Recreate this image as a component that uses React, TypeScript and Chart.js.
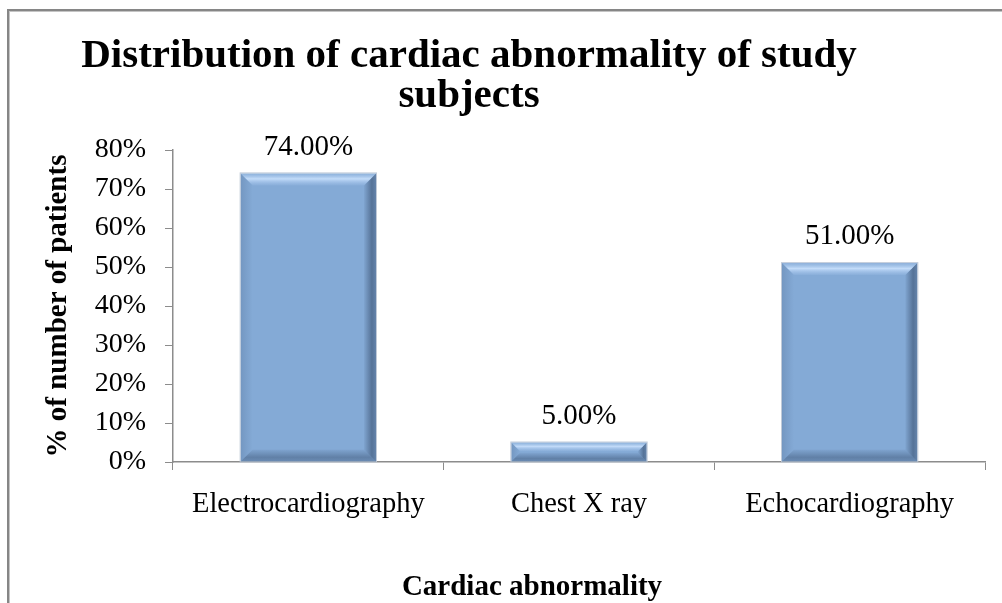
import React, { useEffect, useRef } from 'react';
import { Chart, registerables } from 'chart.js';

Chart.register(...registerables);

const categories: string[] = ['Electrocardiography', 'Chest X ray', 'Echocardiography'];
const values: number[] = [0.74, 0.05, 0.51];
const yMin = 0;
const yMax = 0.8;
const yStep = 0.1;
const chartTitle: string[] = ['Distribution of cardiac abnormality of study', 'subjects'];
const xTitle = 'Cardiac abnormality';
const yTitle = '% of number of patients';

const SERIF = "'Liberation Serif', 'Times New Roman', Times, serif";

function poly(ctx: CanvasRenderingContext2D, pts: number[][]) {
  ctx.beginPath();
  ctx.moveTo(pts[0][0], pts[0][1]);
  for (let i = 1; i < pts.length; i++) ctx.lineTo(pts[i][0], pts[i][1]);
  ctx.closePath();
}

const bevelPlugin = {
  id: 'bevelBars',
  afterDatasetsDraw(chart: any) {
    const ctx: CanvasRenderingContext2D = chart.ctx;
    const meta = chart.getDatasetMeta(0);
    meta.data.forEach((bar: any) => {
      const p = bar.getProps(['x', 'y', 'base', 'width'], true);
      const x0 = p.x - p.width / 2;
      const x1 = p.x + p.width / 2;
      const y0 = Math.min(p.y, p.base);
      const y1 = Math.max(p.y, p.base);
      const h = y1 - y0;
      const b = Math.min(12, h / 2.2);
      ctx.save();
      // left band
      let g = ctx.createLinearGradient(x0, 0, x0 + b, 0);
      g.addColorStop(0, 'rgba(60,85,120,0.22)');
      g.addColorStop(1, 'rgba(60,85,120,0)');
      poly(ctx, [[x0, y0], [x0 + b, y0 + b], [x0 + b, y1 - b], [x0, y1]]);
      ctx.fillStyle = g;
      ctx.fill();
      // right band
      g = ctx.createLinearGradient(x1 - b, 0, x1, 0);
      g.addColorStop(0, 'rgba(40,60,90,0.05)');
      g.addColorStop(0.65, 'rgba(40,60,90,0.5)');
      g.addColorStop(1, 'rgba(40,60,90,0.35)');
      poly(ctx, [[x1, y0], [x1, y1], [x1 - b, y1 - b], [x1 - b, y0 + b]]);
      ctx.fillStyle = g;
      ctx.fill();
      // bottom band
      g = ctx.createLinearGradient(0, y1 - b, 0, y1);
      g.addColorStop(0, 'rgba(40,60,90,0.05)');
      g.addColorStop(0.65, 'rgba(40,60,90,0.38)');
      g.addColorStop(1, 'rgba(40,60,90,0.28)');
      poly(ctx, [[x0, y1], [x1, y1], [x1 - b, y1 - b], [x0 + b, y1 - b]]);
      ctx.fillStyle = g;
      ctx.fill();
      // top band
      g = ctx.createLinearGradient(0, y0, 0, y0 + b);
      g.addColorStop(0, 'rgba(150,185,225,0.5)');
      g.addColorStop(0.45, 'rgba(205,228,255,0.85)');
      g.addColorStop(1, 'rgba(170,200,240,0.15)');
      poly(ctx, [[x0, y0], [x1, y0], [x1 - b, y0 + b], [x0 + b, y0 + b]]);
      ctx.fillStyle = g;
      ctx.fill();
      // outline
      ctx.strokeStyle = 'rgba(185,196,212,0.9)';
      ctx.lineWidth = 1;
      ctx.strokeRect(x0 - 0.5, y0 - 0.5, p.width + 1, h + 1);
      ctx.restore();
    });
  },
};

const dataLabelPlugin = {
  id: 'dataLabels',
  afterDatasetsDraw(chart: any) {
    const ctx: CanvasRenderingContext2D = chart.ctx;
    const meta = chart.getDatasetMeta(0);
    const ds = chart.data.datasets[0].data as number[];
    ctx.save();
    ctx.font = `29px ${SERIF}`;
    ctx.fillStyle = '#000';
    ctx.textAlign = 'center';
    ctx.textBaseline = 'middle';
    meta.data.forEach((bar: any, i: number) => {
      const p = bar.getProps(['x', 'y'], true);
      ctx.fillText((ds[i] * 100).toFixed(2) + '%', p.x, p.y - 26.5);
    });
    ctx.restore();
  },
};

const titlesPlugin = {
  id: 'titles',
  afterDraw(chart: any) {
    const ctx: CanvasRenderingContext2D = chart.ctx;
    ctx.save();
    ctx.fillStyle = '#000';
    ctx.textAlign = 'center';
    ctx.textBaseline = 'alphabetic';
    ctx.font = `bold 41px ${SERIF}`;
    chartTitle.forEach((line, i) => ctx.fillText(line, 469, 67 + i * 40));
    ctx.font = `bold 29px ${SERIF}`;
    ctx.fillText(xTitle, 532, 595);
    ctx.restore();
  },
};

export default function App() {
  const ref = useRef<HTMLCanvasElement | null>(null);

  useEffect(() => {
    if (!ref.current) return;
    const chart = new Chart(ref.current, {
      type: 'bar',
      data: {
        labels: categories,
        datasets: [
          {
            data: values,
            backgroundColor: '#84AAD6',
            borderWidth: 0,
            barPercentage: 0.5,
            categoryPercentage: 1.0,
          },
        ],
      },
      options: {
        responsive: false,
        animation: false,
        devicePixelRatio: 1,
        layout: { padding: { left: 0, right: 17, top: 150, bottom: 0 } },
        plugins: {
          legend: { display: false },
          tooltip: { enabled: false },
          title: { display: false },
        },
        scales: {
          x: {
            offset: true,
            grid: {
              display: true,
              drawOnChartArea: false,
              drawTicks: true,
              tickLength: 8,
              color: '#8c8c8c',
              offset: true,
            },
            border: { display: true, color: '#8c8c8c', width: 1.5 },
            ticks: {
              color: '#000',
              font: { family: SERIF, size: 28.5 },
              padding: 17,
              maxRotation: 0,
            },
            title: { display: false },
            afterFit(scale: any) {
              scale.height = 141;
            },
          },
          y: {
            min: yMin,
            max: yMax,
            grid: {
              display: true,
              drawOnChartArea: false,
              drawTicks: true,
              tickLength: 8,
              color: '#8c8c8c',
            },
            border: { display: true, color: '#8c8c8c', width: 1.5 },
            ticks: {
              stepSize: yStep,
              color: '#000',
              font: { family: SERIF, size: 28 },
              padding: 19,
              callback: (v: any) => Math.round(Number(v) * 100) + '%',
            },
            title: {
              display: true,
              text: yTitle,
              color: '#000',
              font: { family: SERIF, size: 29, weight: 'bold' },
              padding: { top: 41.6, bottom: 0 },
            },
            afterFit(scale: any) {
              scale.width = 173;
            },
          },
        },
      },
      plugins: [bevelPlugin, dataLabelPlugin, titlesPlugin],
    } as any);
    return () => chart.destroy();
  }, []);

  return (
    <div
      style={{
        position: 'fixed',
        left: 0,
        top: 0,
        width: 1002,
        height: 603,
        overflow: 'hidden',
        background: '#fff',
      }}
    >
      <div
        style={{
          position: 'absolute',
          left: 7,
          top: 9,
          width: 1100,
          height: 700,
          border: '2px solid #868686',
          boxShadow: 'inset 1px 1px 0 #c4c4c4',
          boxSizing: 'border-box',
        }}
      />
      <canvas
        ref={ref}
        width={1002}
        height={603}
        style={{ position: 'absolute', left: 0, top: 0, width: 1002, height: 603 }}
      />
    </div>
  );
}
